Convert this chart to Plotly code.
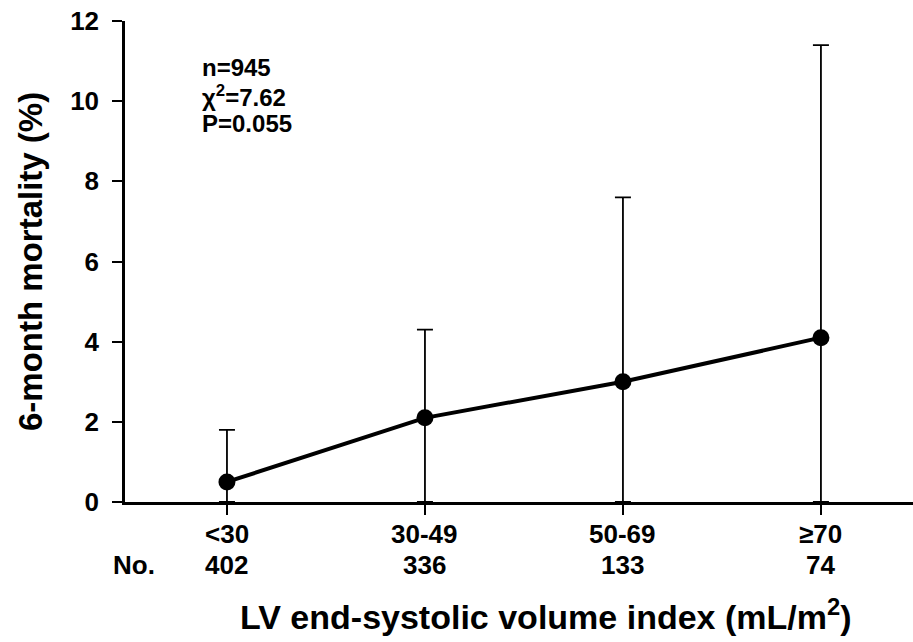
import plotly.graph_objects as go

categories = ["<30", "30-49", "50-69", "\u226570"]
counts = ["402", "336", "133", "74"]
mortality = [0.5, 2.1, 3.0, 4.1]
upper_ci = [1.8, 4.3, 7.6, 11.4]
y_ticks = [0, 2, 4, 6, 8, 10, 12]
stats_lines = ["n=945", "\u03c7<sup style='font-size:14px'>2</sup>=7.62", "P=0.055"]

W, H = 913, 642
L, R, T, B = 125, 0, 21, 140
ph = H - T - B
pw = W - L - R
FONT = "Liberation Sans, Arial, sans-serif"
SMALL = 26

xs = list(range(len(categories)))
err_plus = [u - m for u, m in zip(upper_ci, mortality)]

fig = go.Figure()
fig.add_trace(go.Scatter(
    x=xs, y=mortality, mode="lines+markers",
    line=dict(color="black", width=4),
    marker=dict(color="black", size=17),
    error_y=dict(type="data", symmetric=False, array=err_plus, arrayminus=mortality,
                 color="black", thickness=1.8, width=8),
    cliponaxis=False, showlegend=False, hoverinfo="skip",
))

def py(pix):
    return -(pix - (T + ph)) / ph

def px(pix):
    return (pix - L) / pw

def fnt(size):
    return dict(size=size, family=FONT, color="black")

annos = []
for i, (c, n) in enumerate(zip(categories, counts)):
    annos.append(dict(x=i, y=py(534), xref="x", yref="paper", text="<b>%s</b>" % c,
                      showarrow=False, font=fnt(SMALL), xanchor="center", yanchor="middle",
                      borderpad=0))
    annos.append(dict(x=i, y=py(565), xref="x", yref="paper", text="<b>%s</b>" % n,
                      showarrow=False, font=fnt(SMALL), xanchor="center", yanchor="middle",
                      borderpad=0))
annos.append(dict(x=px(112), y=py(565), xref="paper", yref="paper", text="<b>No.</b>",
                  showarrow=False, font=fnt(SMALL), xanchor="left", yanchor="middle",
                  borderpad=0))
annos.append(dict(x=px(546), y=py(614), xref="paper", yref="paper",
                  text="<b>LV end-systolic volume index (mL/m<sup>2</sup>)</b>",
                  showarrow=False, font=fnt(34), xanchor="center", yanchor="middle"))
annos.append(dict(x=px(30), y=py(262), xref="paper", yref="paper",
                  text="<b>6-month mortality (%)</b>", textangle=-90,
                  showarrow=False, font=fnt(33), xanchor="center", yanchor="middle"))
for t, yp in zip(stats_lines, [68, 96, 123]):
    annos.append(dict(x=px(201), y=py(yp), xref="paper", yref="paper",
                      text="<b>%s</b>" % t, showarrow=False, font=fnt(24),
                      xanchor="left", yanchor="middle", borderpad=0))

fig.update_layout(
    width=W, height=H, margin=dict(l=L, r=R, t=T, b=B),
    paper_bgcolor="white", plot_bgcolor="white",
    annotations=annos, hovermode=False,
    xaxis=dict(range=[-0.515, 3.465], tickvals=xs, ticktext=["" for _ in xs],
               showgrid=False, zeroline=False, showline=True, linecolor="black",
               linewidth=2.5, ticks="outside", ticklen=10, tickwidth=2, tickcolor="black"),
    yaxis=dict(range=[0, 12], tickvals=y_ticks, showgrid=False, zeroline=False,
               showline=True, linecolor="black", linewidth=2.5, ticks="outside",
               ticklen=10, tickwidth=2, tickcolor="black", ticklabelstandoff=8,
               tickfont=dict(size=SMALL, family=FONT, color="black", weight="bold")),
)
fig.write_html("out.html", config={"displayModeBar": False},
               post_script="document.body.style.margin='0';document.body.style.overflow='hidden';")
